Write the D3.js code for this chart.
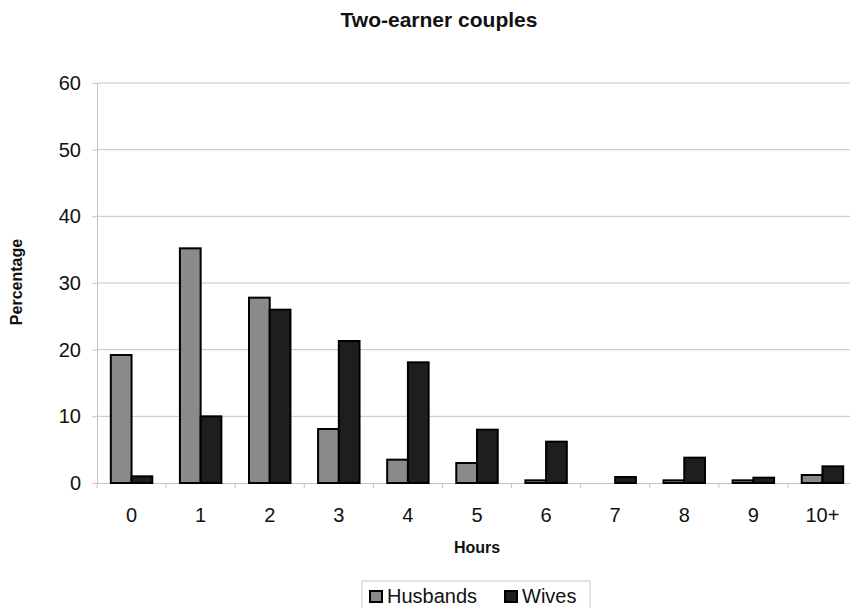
<!DOCTYPE html>
<html>
<head>
<meta charset="utf-8">
<script src="https://cdn.jsdelivr.net/npm/d3@7"></script>
<style>
  html, body { margin: 0; padding: 0; background: #fff; }
  svg { display: block; font-family: "Liberation Sans", Arial, sans-serif; }
</style>
</head>
<body>
<svg id="chart" width="850" height="608"></svg>
<script>
// Hours spent, by category
const categories = ["0", "1", "2", "3", "4", "5", "6", "7", "8", "9", "10+"];
const seriesNames = ["Husbands", "Wives"];
const husbands = [19.2, 35.2, 27.8, 8.1, 3.5, 3.0, 0.4, 0, 0.4, 0.4, 1.2];
const wives = [1.0, 10.0, 26.0, 21.3, 18.1, 8.0, 6.2, 0.9, 3.8, 0.8, 2.5];
const yTicks = [0, 10, 20, 30, 40, 50, 60];
const colors = ["#8a8a8a", "#1e1e1e"];

const svg = d3.select("#chart");
const plotLeft = 97, plotRight = 857, plotTop = 83, plotBottom = 483;

const x = d3.scaleBand().domain(categories).range([plotLeft, plotRight]).padding(0);
const bw = x.bandwidth();
const x1 = d3.scaleBand().domain(seriesNames).range([bw * 0.2, bw * 0.8]).padding(0);
const y = d3.scaleLinear().domain([0, 60]).range([plotBottom, plotTop]);

// Title
svg.append("text")
  .attr("x", 439).attr("y", 27)
  .attr("text-anchor", "middle")
  .attr("font-size", 21).attr("font-weight", "bold")
  .attr("fill", "#111")
  .text("Two-earner couples");

// Gridlines
svg.append("g")
  .selectAll("line")
  .data(yTicks.filter(d => d > 0))
  .join("line")
  .attr("x1", plotLeft).attr("x2", plotRight)
  .attr("y1", d => y(d)).attr("y2", d => y(d))
  .attr("stroke", "#c4c4c4").attr("stroke-width", 1);

// Y axis
const yAxis = svg.append("g")
  .attr("transform", `translate(${plotLeft},0)`)
  .call(d3.axisLeft(y).tickValues(yTicks).tickSize(5).tickPadding(11));
yAxis.select(".domain").attr("stroke", "#c4c4c4");
yAxis.selectAll(".tick line").attr("stroke", "#c4c4c4");
yAxis.selectAll(".tick text")
  .attr("font-size", 20)
  .attr("font-family", "Liberation Sans, Arial, sans-serif")
  .attr("fill", "#111");

// X axis
const xAxis = svg.append("g")
  .attr("transform", `translate(0,${plotBottom})`)
  .call(d3.axisBottom(x).tickSize(0).tickPadding(25).tickFormat(d => d));
xAxis.select(".domain").attr("stroke", "#c4c4c4");
xAxis.selectAll(".tick text")
  .attr("font-size", 20)
  .attr("dy", 0)
  .attr("font-family", "Liberation Sans, Arial, sans-serif")
  .attr("fill", "#111")
  .attr("y", 39);
// category separators
svg.append("g")
  .selectAll("line")
  .data(categories)
  .join("line")
  .attr("x1", d => x(d)).attr("x2", d => x(d))
  .attr("y1", plotBottom).attr("y2", plotBottom + 5)
  .attr("stroke", "#c4c4c4");

// Bars
const rows = categories.map((c, i) => ({ cat: c, values: [husbands[i], wives[i]] }));
const groups = svg.append("g")
  .selectAll("g")
  .data(rows)
  .join("g")
  .attr("transform", d => `translate(${x(d.cat)},0)`);

groups.selectAll("rect")
  .data(d => d.values.map((v, j) => ({ name: seriesNames[j], value: v, j })).filter(e => e.value > 0))
  .join("rect")
  .attr("x", d => x1(d.name))
  .attr("width", x1.bandwidth())
  .attr("y", d => y(d.value))
  .attr("height", d => y(0) - y(d.value))
  .attr("fill", d => colors[d.j])
  .attr("stroke", "#000")
  .attr("stroke-width", 2);

// Axis titles
svg.append("text")
  .attr("x", (plotLeft + plotRight) / 2).attr("y", 553)
  .attr("text-anchor", "middle")
  .attr("font-size", 16).attr("font-weight", "bold")
  .attr("fill", "#111")
  .text("Hours");

svg.append("text")
  .attr("transform", "translate(22,282) rotate(-90)")
  .attr("text-anchor", "middle")
  .attr("font-size", 16).attr("font-weight", "bold")
  .attr("fill", "#111")
  .text("Percentage");

// Legend
const legend = svg.append("g");
legend.append("path")
  .attr("d", "M362,608 V581 H590 V608")
  .attr("fill", "none")
  .attr("stroke", "#c8c8c8");
const items = [{ name: seriesNames[0], x: 370 }, { name: seriesNames[1], x: 505 }];
items.forEach((it, j) => {
  legend.append("rect")
    .attr("x", it.x).attr("y", 591)
    .attr("width", 12).attr("height", 11)
    .attr("fill", colors[j])
    .attr("stroke", "#000").attr("stroke-width", 2);
  legend.append("text")
    .attr("x", it.x + 17).attr("y", 603)
    .attr("font-size", 20)
    .attr("fill", "#111")
    .text(it.name);
});
</script>
</body>
</html>
